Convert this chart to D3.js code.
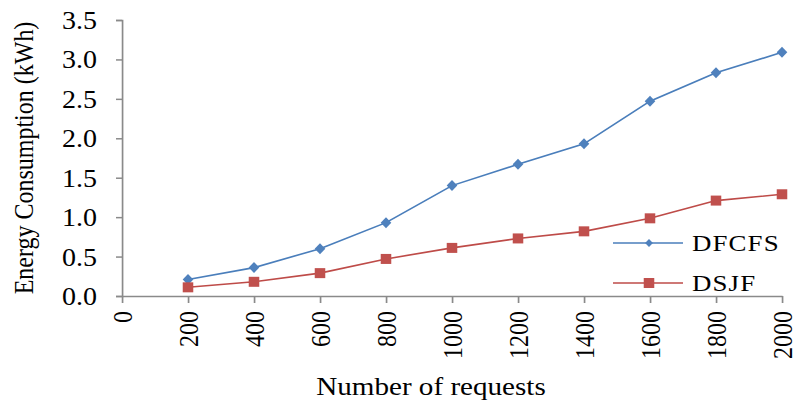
<!DOCTYPE html>
<html>
<head>
<meta charset="utf-8">
<script src="https://cdn.jsdelivr.net/npm/d3@7"></script>
<style>
html,body{margin:0;padding:0;background:#fff;}
svg{display:block;}
text{font-family:"Liberation Serif","Times New Roman",serif;fill:#000;}
</style>
</head>
<body>
<svg id="chart" width="793" height="401"></svg>
<script>
const requests = [200, 400, 600, 800, 1000, 1200, 1400, 1600, 1800, 2000];
const dfcfs = [0.21, 0.36, 0.60, 0.93, 1.40, 1.67, 1.93, 2.47, 2.83, 3.09];
const dsjf  = [0.11, 0.18, 0.29, 0.47, 0.61, 0.73, 0.82, 0.985, 1.21, 1.29];
const xTicks = [0, 200, 400, 600, 800, 1000, 1200, 1400, 1600, 1800, 2000];
const yTicks = [0, 0.5, 1.0, 1.5, 2.0, 2.5, 3.0, 3.5];
const seriesNames = ["DFCFS", "DSJF"];
const seriesColors = ["#4A7EBB", "#BE4B48"];
const markerColors = ["#4F81BD", "#C0504D"];

const sx = 1.12; // horizontal stretch of the original picture
const svg = d3.select("#chart");
const root = svg.append("g").attr("transform", `scale(${sx},1)`);

const x = d3.scaleLinear().domain([0, 2000]).range([122 / sx, 782 / sx]);
const y = d3.scaleLinear().domain([0, 3.5]).range([296, 20]);
const axisColor = "#8A8A8A";

// Y axis
const yAxis = root.append("g").attr("transform", `translate(${x(0)},0)`)
  .call(d3.axisLeft(y).tickValues(yTicks).tickFormat(d3.format(".1f")).tickSize(6 / sx).tickPadding(19 / sx));
yAxis.select(".domain").attr("stroke", axisColor).attr("stroke-width", 1.5);
yAxis.selectAll(".tick line").attr("stroke", axisColor).attr("stroke-width", 1.5);
yAxis.selectAll(".tick text").attr("font-size", 25).attr("font-family", "Liberation Serif").attr("fill", "#000").attr("dy", "0.34em");

// X axis
const xAxis = root.append("g").attr("transform", `translate(0,${y(0)})`)
  .call(d3.axisBottom(x).tickValues(xTicks).tickFormat(d3.format("d")).tickSize(7).tickSizeOuter(0));
xAxis.select(".domain").attr("stroke", axisColor).attr("stroke-width", 1.5);
xAxis.selectAll(".tick line").attr("stroke", axisColor).attr("stroke-width", 1.5);
xAxis.selectAll(".tick text")
  .attr("font-size", 24).attr("font-family", "Liberation Serif").attr("fill", "#000")
  .attr("text-anchor", "end")
  .attr("transform", "translate(0,15) rotate(-90)")
  .attr("x", 0).attr("y", 0).attr("dy", "0.35em");

// Lines and markers
const series = [dfcfs, dsjf];
const line = d3.line().x((d, i) => x(requests[i])).y(d => y(d));
const diamond = (cx, cy, w, h) => `M${cx},${cy - h / 2}L${cx + w / 2},${cy}L${cx},${cy + h / 2}L${cx - w / 2},${cy}Z`;

series.forEach((vals, si) => {
  root.append("path").datum(vals)
    .attr("fill", "none").attr("stroke", seriesColors[si]).attr("stroke-width", 1.6)
    .attr("d", line);
  const g = root.append("g");
  if (si === 0) {
    g.selectAll("path").data(vals).join("path")
      .attr("d", (d, i) => diamond(x(requests[i]), y(d), 9.5, 11))
      .attr("fill", markerColors[si]);
  } else {
    g.selectAll("rect").data(vals).join("rect")
      .attr("x", (d, i) => x(requests[i]) - 4.7).attr("y", d => y(d) - 5)
      .attr("width", 9.4).attr("height", 10)
      .attr("fill", markerColors[si]);
  }
});

// Legend
const legendY = [243, 283];
seriesNames.forEach((name, si) => {
  const g = root.append("g");
  g.append("line").attr("x1", 613 / sx).attr("x2", 683 / sx).attr("y1", legendY[si]).attr("y2", legendY[si])
    .attr("stroke", seriesColors[si]).attr("stroke-width", 1.6);
  if (si === 0) {
    g.append("path").attr("d", diamond(649 / sx, legendY[si], 7, 8)).attr("fill", markerColors[si]);
  } else {
    g.append("rect").attr("x", 649 / sx - 4.7).attr("y", legendY[si] - 5).attr("width", 9.4).attr("height", 10).attr("fill", markerColors[si]);
  }
  g.append("text").attr("x", 692 / sx).attr("y", legendY[si] + 8.5)
    .attr("font-size", 24).attr("letter-spacing", 1).text(name);
});

// Axis titles
root.append("text").attr("x", 431 / sx).attr("y", 395).attr("text-anchor", "middle")
  .attr("font-size", 26).text("Number of requests");
root.append("text").attr("transform", `translate(${33 / sx},158) rotate(-90)`)
  .attr("text-anchor", "middle").attr("font-size", 24).text("Energy Consumption (kWh)");
</script>
</body>
</html>
